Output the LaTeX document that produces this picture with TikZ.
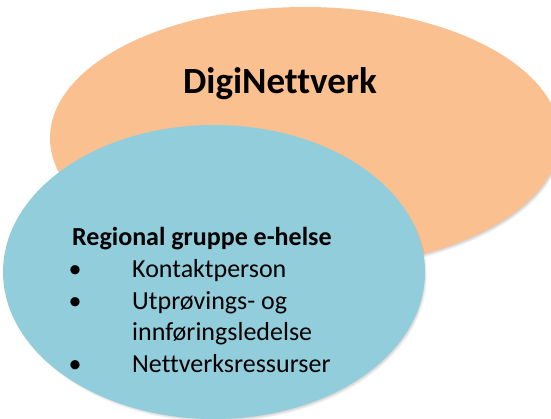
\documentclass[tikz,border=0pt]{standalone}
\usepackage{fontspec}
\setmainfont{Carlito}[Ligatures=NoCommon]
\usepackage{xcolor}
\usetikzlibrary{positioning}

\definecolor{netorange}{HTML}{FAC090}
\definecolor{groupblue}{HTML}{92CDDC}

\begin{document}
\begin{tikzpicture}[x=1pt, y=-1pt,
  txt/.style={font=\fontsize{26}{30}\selectfont, inner sep=0pt},
  heading/.style={txt, font=\bfseries\fontsize{26}{30}\selectfont, anchor=base west},
  item/.style={txt, anchor=base west},
  dot/.style={txt, anchor=base}]
  \useasboundingbox (0,0) rectangle (551,418);
  % ---------- DIGINETTVERK ----------
  \foreach \k in {0,...,5}
    \fill[black, opacity=0.04] (307,141) ellipse ({255-\k*0.8} and {131-\k*0.8});
  \fill[netorange] (305,138) ellipse (255 and 131);
  \node[font=\bfseries\fontsize{37}{44}\selectfont, anchor=base, inner sep=0pt] (title) at (280,93) {DigiNettverk};
  % ---------- REGIONAL GRUPPE ----------
  \foreach \k in {0,...,5}
    \fill[black, opacity=0.04] (216,275) ellipse ({211-\k*0.8} and {147-\k*0.8});
  \fill[groupblue] (214,272) ellipse (211 and 147);
  \node[heading] (group) at (72,245) {Regional gruppe e-helse};
  \node[item] (contact) at (132,277) {Kontaktperson};
  \node[item] (trial) at (132,309) {Utprøvings- og};
  \node[item] (trial2) at (132,340) {innføringsledelse};
  \node[item] (network) at (132,372) {Nettverksressurser};
  \foreach \n in {contact,trial,network}
    \node[dot] at (75,0 |- \n.base) {•};
\end{tikzpicture}
\end{document}
